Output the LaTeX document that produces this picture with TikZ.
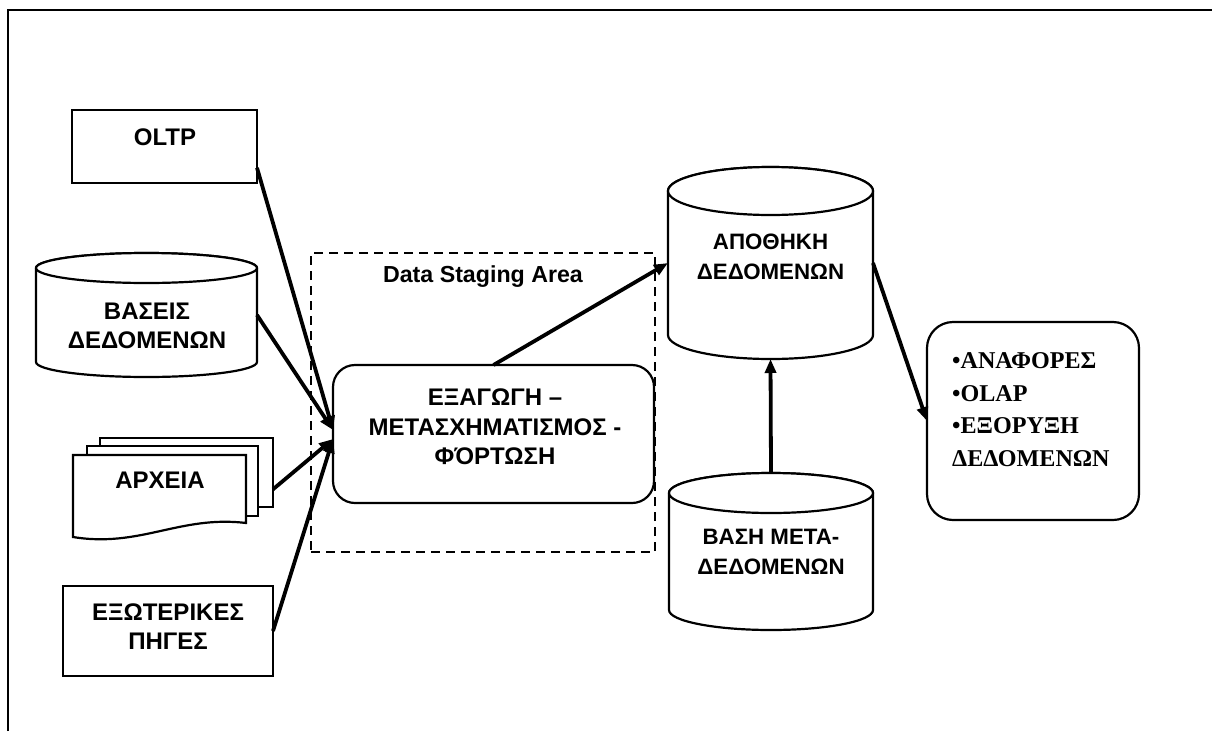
\documentclass[tikz,border=0pt]{standalone}
\usepackage{fontspec}
\setmainfont{Liberation Sans}
\newfontfamily\listfont{Liberation Serif}
\usetikzlibrary{arrows.meta,calc}

\tikzset{
  outline/.style={draw=black,line width=2.2pt,fill=white},
  shapebox/.style={outline,rectangle,inner sep=0pt,outer sep=0pt},
  cylbox/.style={rectangle,inner sep=0pt,outer sep=0pt},
  txt/.style={font=\bfseries\fontsize{24}{29.5}\selectfont,align=center,inner sep=0pt},
  txtsmall/.style={font=\bfseries\fontsize{22.3}{29.5}\selectfont,align=center,inner sep=0pt},
  listtxt/.style={font=\listfont\bfseries\fontsize{24.1}{32.5}\selectfont,align=left,inner sep=0pt},
  flow/.style={line width=3.8pt,-{Triangle[length=14pt,width=11pt]}},
}

\begin{document}
\begin{tikzpicture}[x=1pt,y=-1pt]
\useasboundingbox (0,0) rectangle (1212,731);

% frame
\draw[line width=1.8pt] (8,731) -- (8,10) -- (1212,10);

% staging area
\node[draw=black,line width=1.9pt,dash pattern=on 9pt off 6pt,rectangle,
  inner sep=0pt,minimum width=344pt,minimum height=299pt] (dsa) at (483,402.5) {};
\node[txt,font=\bfseries\fontsize{23.2}{29.5}\selectfont] (dsaT) at (483,277) {Data Staging Area};

% sources
\node[shapebox,minimum width=185pt,minimum height=73pt] (oltp) at (164.5,146.5) {};
\node[txt] (oltpT) at (165,137) {OLTP};

\node[cylbox,minimum width=221pt,minimum height=124pt] (bases) at (146.5,315) {};
\draw[outline] ($(bases.north west)+(0,15)$) -- ($(bases.south west)+(0,-15)$)
  arc[start angle=180,end angle=360,x radius=110.5pt,y radius=15pt]
  -- ($(bases.north east)+(0,15)$)
  arc[start angle=0,end angle=180,x radius=110.5pt,y radius=15pt] -- cycle;
\draw[outline] ($(bases.north)+(0,15)$) ellipse[x radius=110.5pt,y radius=15pt];
\node[txt] (basesT) at (147,326) {ΒΑΣΕΙΣ\\ΔΕΔΟΜΕΝΩΝ};

\node[shapebox,minimum width=173pt,minimum height=69pt] (archB) at (186.5,472.5) {};
\node[shapebox,minimum width=171pt,minimum height=70pt] (archM) at (172.5,481) {};
\draw[outline] (73,455) -- (246,455) -- (246,523)
  .. controls (180,515) and (140,548) .. (73,537) -- cycle;
\node[txt] (archT) at (160,480) {ΑΡΧΕΙΑ};

\node[shapebox,minimum width=210pt,minimum height=90pt] (exo) at (168,631) {};
\node[txt] (exoT) at (168,626.5) {ΕΞΩΤΕΡΙΚΕΣ\\ΠΗΓΕΣ};

% extraction / transformation / loading
\node[shapebox,rounded corners=22pt,minimum width=321pt,minimum height=138pt] (etl) at (493.5,434) {};
\node[txt] (etlT) at (495,427) {ΕΞΑΓΩΓΗ –\\ΜΕΤΑΣΧΗΜΑΤΙΣΜΟΣ -\\ΦΌΡΤΩΣΗ};

% warehouse
\node[cylbox,minimum width=205pt,minimum height=192pt] (apo) at (770.5,263) {};
\draw[outline] ($(apo.north west)+(0,24)$) -- ($(apo.south west)+(0,-24)$)
  arc[start angle=180,end angle=360,x radius=102.5pt,y radius=24pt]
  -- ($(apo.north east)+(0,24)$)
  arc[start angle=0,end angle=180,x radius=102.5pt,y radius=24pt] -- cycle;
\draw[outline] ($(apo.north)+(0,24)$) ellipse[x radius=102.5pt,y radius=24pt];
\node[txtsmall] (apoT) at (770.5,257) {ΑΠΟΘΗΚΗ\\ΔΕΔΟΜΕΝΩΝ};

% metadata
\node[cylbox,minimum width=204pt,minimum height=157pt] (meta) at (771,551.5) {};
\draw[outline] ($(meta.north west)+(0,20)$) -- ($(meta.south west)+(0,-20)$)
  arc[start angle=180,end angle=360,x radius=102pt,y radius=20pt]
  -- ($(meta.north east)+(0,20)$)
  arc[start angle=0,end angle=180,x radius=102pt,y radius=20pt] -- cycle;
\draw[outline] ($(meta.north)+(0,20)$) ellipse[x radius=102pt,y radius=20pt];
\node[txtsmall] (metaT) at (771,552) {ΒΑΣΗ ΜΕΤΑ-\\ΔΕΔΟΜΕΝΩΝ};

% applications
\node[shapebox,rounded corners=26pt,minimum width=212pt,minimum height=198pt] (res) at (1033,421) {};
\node[listtxt,anchor=west] (resT) at (952,409.5) {•ΑΝΑΦΟΡΕΣ\\•OLAP\\•ΕΞΟΡΥΞΗ\\ΔΕΔΟΜΕΝΩΝ};

% data flow
\draw[flow] (oltp.-13) -- ($(etl.west)+(0,-4)$);
\draw[flow] (bases.east) -- ($(etl.west)+(0,-4)$);
\draw[flow] (archB.-11) -- ($(etl.west)+(0,5)$);
\draw[flow] (exo.east) -- ($(etl.west)+(0,5)$);
\draw[flow] (etl.north) -- (apo.west);
\draw[flow] (meta.north) -- (apo.south);
\draw[flow] (apo.east) -- (res.west);
\end{tikzpicture}
\end{document}
